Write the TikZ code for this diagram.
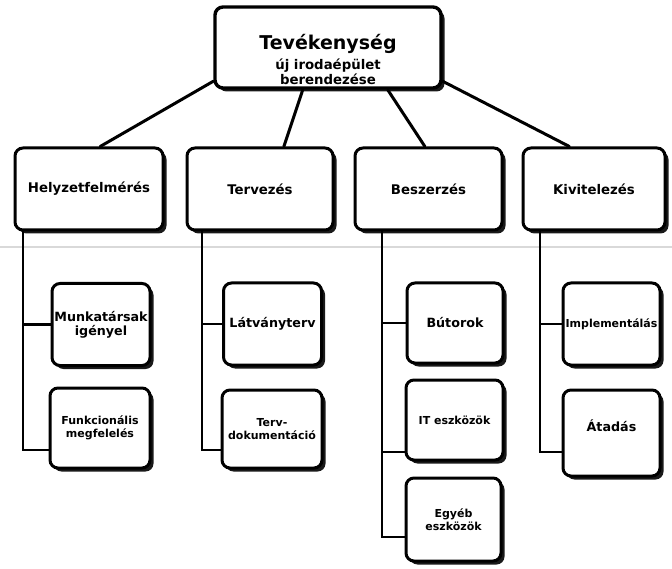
\documentclass[tikz,border=0pt]{standalone}
\usepackage{fontspec}
\setmainfont{DejaVu Sans}
\usetikzlibrary{shadows,calc}
\pgfdeclarelayer{background}
\pgfsetlayers{background,main}
\begin{document}
\begin{tikzpicture}[x=1pt,y=-1pt,
  box/.style={draw=black, line width=3pt, rounded corners=8pt, fill=white,
    drop shadow={shadow xshift=3.5pt, shadow yshift=-3.5pt, fill=black, opacity=0.9},
    align=center, inner sep=1pt},
  mainbox/.style={box, minimum width=146pt, minimum height=82pt,
    font=\bfseries\fontsize{13.3}{15}\selectfont},
  subbox/.style={box, minimum width=98pt, minimum height=82pt,
    font=\bfseries\fontsize{12.7}{14}\selectfont},
  smalltext/.style={font=\bfseries\fontsize{11}{13.5}\selectfont},
  link/.style={line width=3pt, line cap=round},
  trunk/.style={line width=2.6pt, line join=miter},
  toptext/.style={anchor=base, font=\bfseries\fontsize{13.3}{15}\selectfont}]

\useasboundingbox (0,0) rectangle (672,569);

% root
\node[box, line width=3.4pt, minimum width=226pt, minimum height=81pt] (top) at (328,47.5) {};
\node[toptext, font=\bfseries\fontsize{19}{21}\selectfont] (title) at (328,50) {Tevékenység};
\node[toptext] (sub1) at (328,70) {új irodaépület};
\node[toptext] (sub2) at (328,85) {berendezése};

% first level
\node[mainbox, minimum width=148pt] (h1) at (89,189) {Helyzetfelmérés};
\node[mainbox] (h2) at (260,189) {Tervezés};
\node[mainbox, minimum width=147pt] (h3) at (428.5,189) {Beszerzés};
\node[mainbox, minimum width=142pt] (h4) at (594,189) {Kivitelezés};

% second level
\node[subbox] (m1) at (101,324.5) {Munkatársak\\igényel};
\node[subbox, smalltext, minimum width=100pt, minimum height=80pt] (f1) at (100,428) {Funkcionális\\megfelelés};
\node[subbox] (l2) at (272.5,324) {Látványterv};
\node[subbox, smalltext, minimum width=100pt, minimum height=78pt] (d2) at (272,429) {Terv-\\dokumentáció};
\node[subbox, minimum width=96pt, minimum height=80pt] (b3) at (455,323) {Bútorok};
\node[subbox, smalltext, minimum width=97pt, minimum height=80pt] (i3) at (454.5,420) {IT eszközök};
\node[subbox, smalltext, minimum width=95pt, minimum height=83pt] (e3) at (453.5,519.5) {Egyéb\\eszközök};
\node[subbox, smalltext, minimum width=97pt] (p4) at (611.5,324) {Implementálás};
\node[subbox, minimum width=97pt, minimum height=86pt, text depth=14pt] (a4) at (611.5,433) {Átadás};

% trunk corners
\coordinate (c1) at (23,450);
\coordinate (c2) at (202,450);
\coordinate (c3) at (382,537);
\coordinate (k3) at (382,452);
\coordinate (c4) at (540,452);

\begin{pgfonlayer}{background}
  % faint rule across the sheet
  \draw[gray!30, line width=1.4pt] (0,247) -- (672,247);

  % root to first level
  \draw[link] ($(top.south west)!0.1!(top.north west)$) -- ($(h1.north west)!0.574!(h1.north east)$);
  \draw[link] ($(top.south west)!0.39!(top.south east)$) -- ($(h2.north west)!0.66!(h2.north east)$);
  \draw[link] ($(top.south west)!0.76!(top.south east)$) -- ($(h3.north west)!0.476!(h3.north east)$);
  \draw[link] ($(top.south east)!0.1!(top.north east)$) -- ($(h4.north west)!0.33!(h4.north east)$);

  % first level to second level
  \draw[trunk] (h1.south -| c1) -- (c1) -- (c1 -| f1.west);
  \draw[trunk] (m1.west -| c1) -- (m1.west);

  \draw[trunk] (h2.south -| c2) -- (c2) -- (c2 -| d2.west);
  \draw[trunk] (l2.west -| c2) -- (l2.west);

  \draw[trunk] (h3.south -| c3) -- (c3) -- (c3 -| e3.west);
  \draw[trunk] (b3.west -| c3) -- (b3.west);
  \draw[trunk] (k3) -- (k3 -| i3.west);

  \draw[trunk] (h4.south -| c4) -- (c4) -- (c4 -| a4.west);
  \draw[trunk] (p4.west -| c4) -- (p4.west);
\end{pgfonlayer}
\end{tikzpicture}
\end{document}
